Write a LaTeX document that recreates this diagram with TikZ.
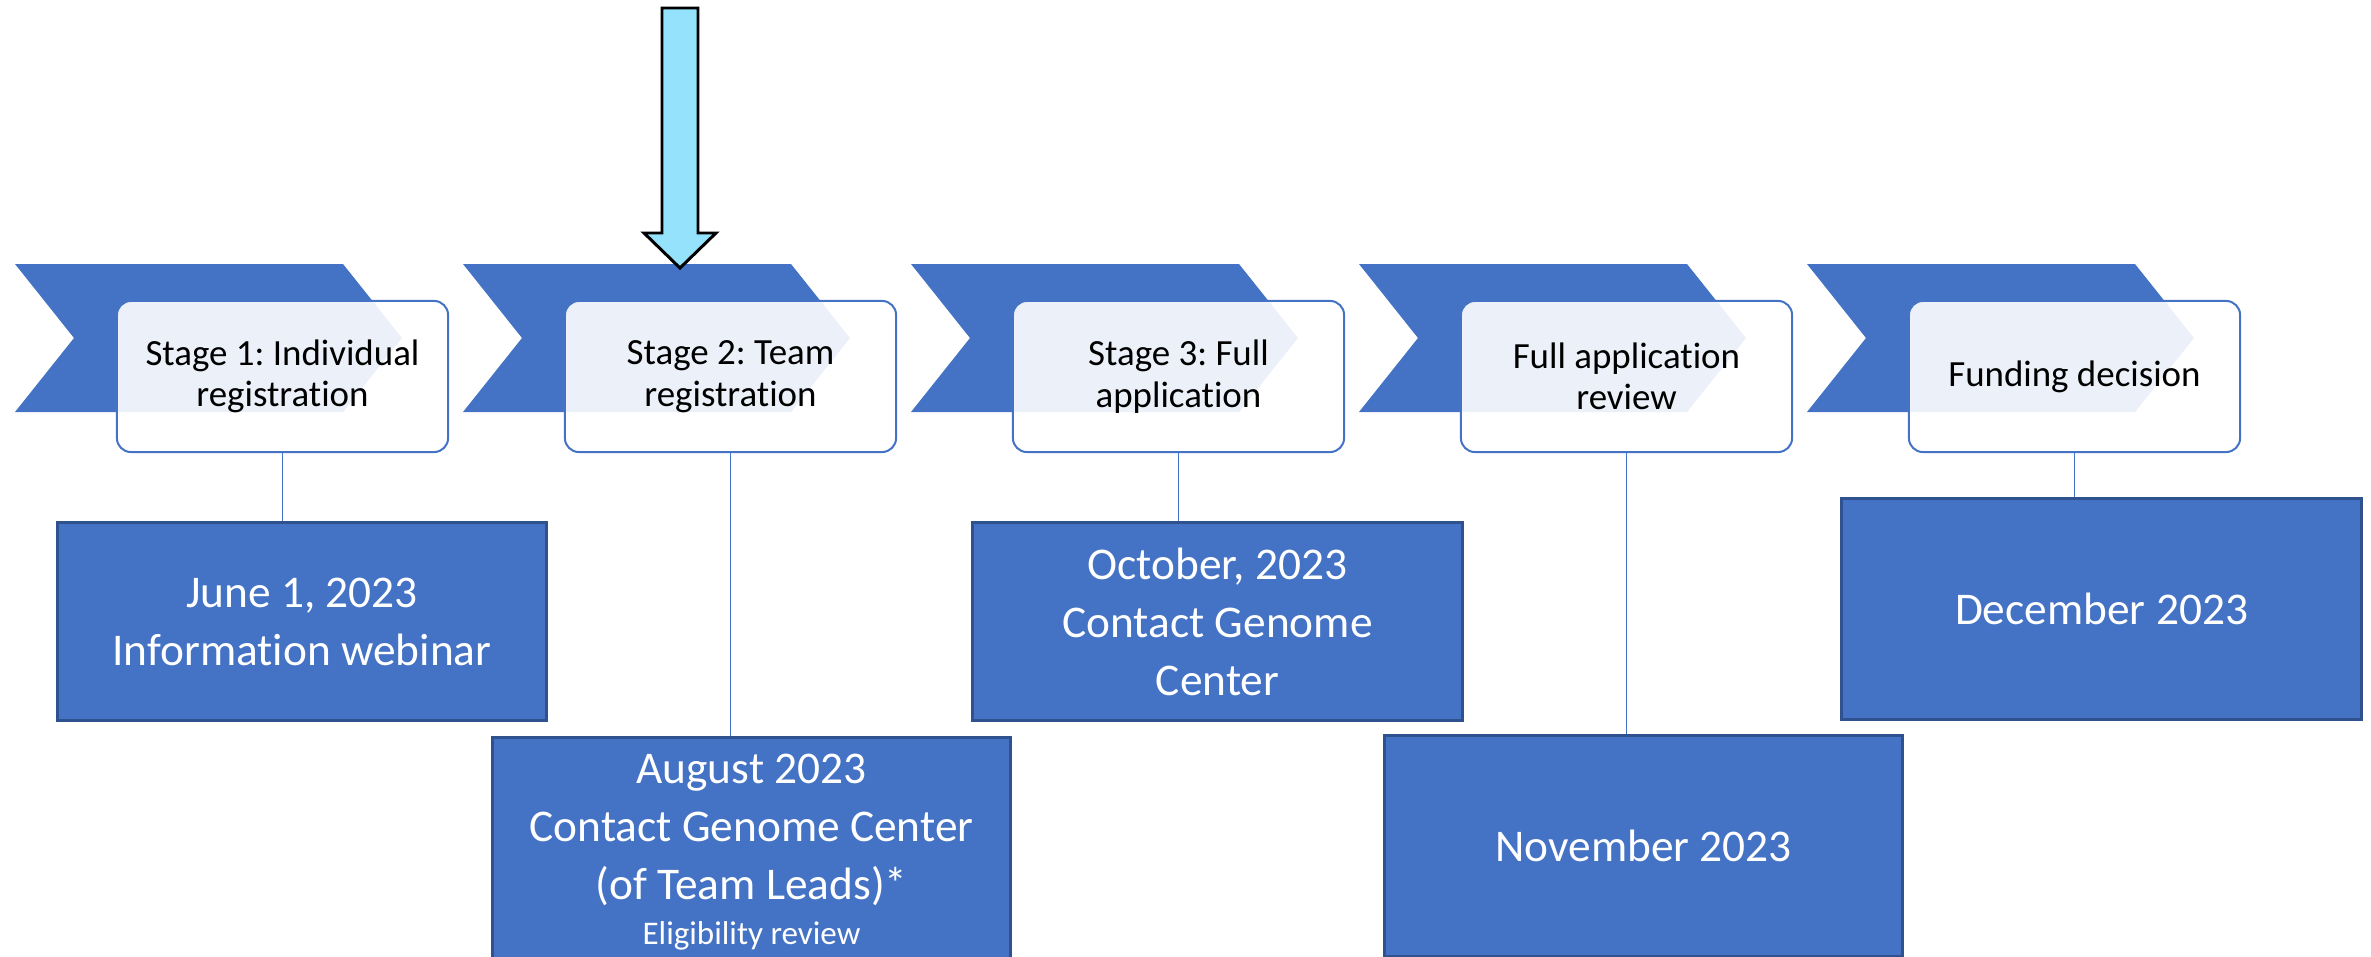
\documentclass[tikz,border=0pt]{standalone}
\usepackage{fontspec}
\setmainfont{Carlito}[Ligatures=NoCommon]
\frenchspacing
\definecolor{chevblue}{HTML}{4472C4}
\definecolor{boxedge}{HTML}{2F528F}
\definecolor{arrowcyan}{HTML}{94E2FB}

\begin{document}
\begin{tikzpicture}[x=0.01cm,y=-0.01cm,
	chevron/.style={fill=chevblue},
	stagebox/.style={draw=chevblue, line width=0.57pt, fill=white, fill opacity=0.9, text opacity=1,
		rounded corners=0.14cm, minimum width=3.31cm, minimum height=1.51cm, align=center,
		font=\fontsize{10.5}{11.8}\selectfont},
	datebox/.style={draw=boxedge, line width=0.85pt, fill=chevblue, text=white, align=center,
		font=\fontsize{12.9}{16.5}\selectfont},
	link/.style={draw=chevblue, line width=0.45pt}]
		\useasboundingbox (0,0) rectangle (2371,957);
		% chevrons along the top
		\fill[chevron] (15,264)--(343,264)--(402,338)--(343,412)--(15,412)--(74,338)--cycle;
		\fill[chevron] (463,264)--(791,264)--(850,338)--(791,412)--(463,412)--(522,338)--cycle;
		\fill[chevron] (911,264)--(1239,264)--(1298,338)--(1239,412)--(911,412)--(970,338)--cycle;
		\fill[chevron] (1359,264)--(1687,264)--(1746,338)--(1687,412)--(1359,412)--(1418,338)--cycle;
		\fill[chevron] (1807,264)--(2135,264)--(2194,338)--(2135,412)--(1807,412)--(1866,338)--cycle;
		
		\node[stagebox] (stage1) at (282.5,376.5) {Stage 1: Individual\\registration};
		\node[stagebox] (stage2) at (730.5,376.5) {Stage 2: Team\\registration};
		\node[stagebox] (stage3) at (1178.5,376.5) {Stage 3: Full\\application};
		\node[stagebox] (stage4) at (1626.5,376.5) {Full application\\review};
		\node[stagebox] (stage5) at (2074.5,376.5) {Funding decision};
		
		\node[datebox, minimum width=4.88cm, minimum height=1.97cm] (date1) at (302,621.5) {June 1, 2023\\Information webinar};
		\node[datebox, minimum width=5.17cm, minimum height=2.28cm] (date2) at (751.5,852) {August 2023\\Contact Genome Center\\(of Team Leads)*\\[-3.5pt]{\fontsize{9.4}{11}\selectfont Eligibility review}};
		\node[datebox, minimum width=4.89cm, minimum height=1.97cm] (date3) at (1217.5,621.5) {October, 2023\\Contact Genome\\Center};
		\node[datebox, minimum width=5.17cm, minimum height=2.20cm] (date4) at (1643.5,846) {November 2023};
		\node[datebox, minimum width=5.19cm, minimum height=2.20cm] (date5) at (2101.5,609) {December 2023};
		
		\draw[link] (stage1.south) -- (stage1.south |- date1.north);
		\draw[link] (stage2.south) -- (stage2.south |- date2.north);
		\draw[link] (stage3.south) -- (stage3.south |- date3.north);
		\draw[link] (stage4.south) -- (stage4.south |- date4.north);
		\draw[link] (stage5.south) -- (stage5.south |- date5.north);
		
		% pointer to the current stage
		\draw[fill=arrowcyan, line width=0.85pt] (662,8)--(698,8)--(698,233)--(716,233)--(680,268)--(644,233)--(662,233)--cycle;
	\end{tikzpicture}
\end{document}
